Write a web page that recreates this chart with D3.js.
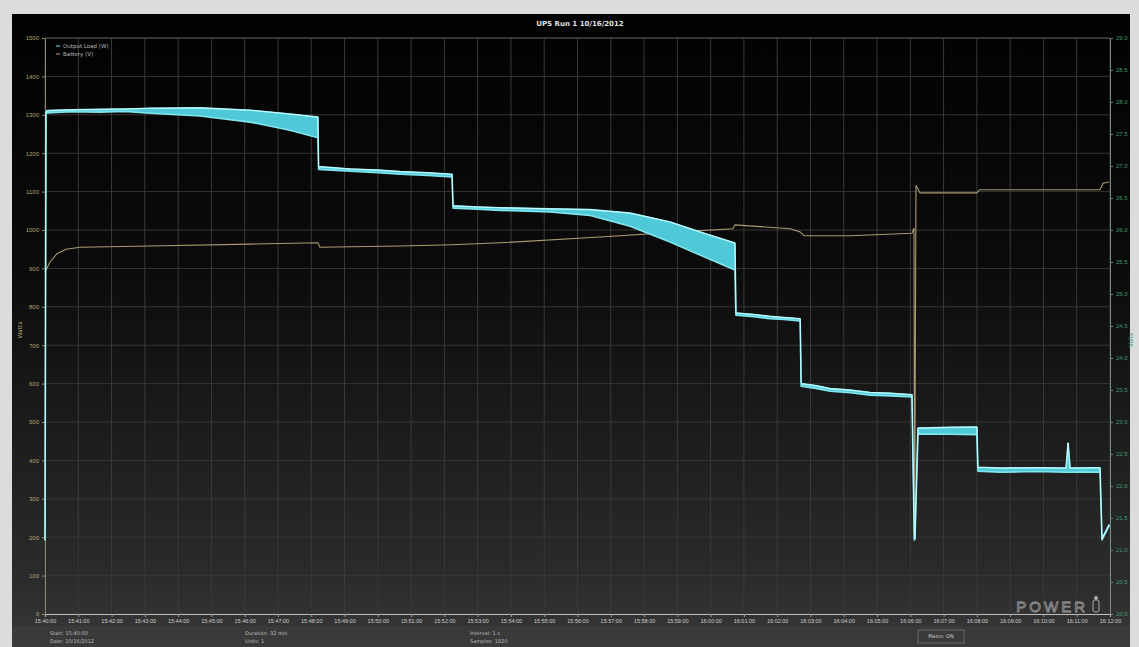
<!DOCTYPE html>
<html>
<head>
<meta charset="utf-8">
<script src="https://cdn.jsdelivr.net/npm/d3@7/dist/d3.min.js"></script>
<style>
  html, body { margin: 0; padding: 0; background: #dcdcdc; }
  svg { display: block; font-family: "DejaVu Sans", sans-serif; }
</style>
</head>
<body>
<svg id="chart" width="1139" height="647"></svg>
<script>
// ---- Run data -------------------------------------------------------------
const chartTitle = "UPS Run 1  10/16/2012";
const runStart = new Date(2012, 9, 16, 15, 40, 0);
const runMinutes = 32;

// Load on the UPS output (W): minutes from start, band low, band high
const loadMinutes = [0.00, 0.03, 0.06, 0.8, 1.65, 2.4, 3.16, 4.66, 6.16, 7.36, 8.20,
  8.22, 9.16, 10.0, 10.67, 11.5, 12.23,
  12.26, 13.0, 13.67, 15.17, 16.38, 17.58, 18.78, 19.68, 20.73,
  20.76, 21.3, 21.78, 22.2, 22.69,
  22.72, 23.2, 23.59, 24.2, 24.79, 25.4, 26.05,
  26.12, 26.14, 26.23, 27.2, 28.00,
  28.03, 28.70, 29.8, 30.68, 30.74, 30.80, 31.70,
  31.76, 31.97];
const loadLow = [193, 1303, 1305, 1308, 1307, 1309, 1304, 1297, 1281, 1260, 1240,
  1158, 1153, 1149, 1145, 1142, 1138,
  1057, 1054, 1051, 1047, 1038, 1010, 969, 935, 896,
  778, 774, 769, 767, 763,
  593, 587, 580, 576, 570, 568, 565,
  193, 195, 469, 468, 467,
  372, 369, 371, 369, 369, 369, 370,
  193, 229];
const loadHigh = [193, 1307, 1311, 1313, 1314, 1315, 1317, 1318, 1312, 1302, 1294,
  1165, 1159, 1156, 1152, 1149, 1145,
  1063, 1060, 1058, 1055, 1053, 1044, 1021, 995, 966,
  784, 780, 775, 772, 769,
  600, 594, 587, 583, 577, 575, 571,
  196, 198, 484, 486, 487,
  382, 380, 381, 380, 445, 380, 381,
  196, 232];

// Battery voltage (V): minutes from start, value
const battMinutes = [0, 0.15, 0.36, 0.63, 1.05, 3.16, 6.16, 8.20, 8.26, 10.67, 12.23,
  13.67, 16.68, 19.08, 20.67, 20.73, 22.39, 22.69, 22.81, 24.19, 26.05, 26.11,
  26.13, 26.17, 26.29, 28.00, 28.09, 31.70, 31.79, 31.97];
const battVolts = [25.34, 25.50, 25.63, 25.70, 25.73, 25.75, 25.78, 25.80, 25.73, 25.75, 25.77,
  25.80, 25.89, 25.97, 26.02, 26.08, 26.02, 25.97, 25.91, 25.91, 25.95, 26.03,
  21.16, 26.70, 26.58, 26.58, 26.63, 26.63, 26.73, 26.75];

// Axis settings
const loadTicks = d3.range(0, 1501, 100);
const voltTicks = d3.range(20, 29.01, 0.5);
const legendNames = ["Output Load (W)", "Battery (V)"];
const footerNotes = [
  ["Start: 15:40:00", "Date: 10/16/2012"],
  ["Duration: 32 min", "Units: 1"],
  ["Interval: 1 s", "Samples: 1920"]
];
const markerNote = "Mains: ON";

// ---- Layout ---------------------------------------------------------------
const W = 1139, H = 647;
const panel = {x: 12, y: 14, w: 1118, h: 633};
const plot = {l: 45, r: 1110, t: 38, b: 614};

const svg = d3.select("#chart");
const defs = svg.append("defs");
const grad = defs.append("linearGradient").attr("id", "bg").attr("x1", 0).attr("y1", 0).attr("x2", 0).attr("y2", 1);
grad.append("stop").attr("offset", "0%").attr("stop-color", "#020202");
grad.append("stop").attr("offset", "40%").attr("stop-color", "#0b0b0b");
grad.append("stop").attr("offset", "90%").attr("stop-color", "#2c2c2c");
grad.append("stop").attr("offset", "100%").attr("stop-color", "#383838");

svg.append("rect").attr("width", W).attr("height", H).attr("fill", "#dcdcdc");
svg.append("rect").attr("x", panel.x).attr("y", panel.y).attr("width", panel.w).attr("height", panel.h)
  .attr("fill", "url(#bg)");
svg.append("rect").attr("x", panel.x).attr("y", 626).attr("width", panel.w).attr("height", H - 626)
  .attr("fill", "#3a3a3a");

// Scales
const x = d3.scaleTime()
  .domain([runStart, d3.timeMinute.offset(runStart, runMinutes)])
  .range([plot.l, plot.r]);
const yLoad = d3.scaleLinear().domain([0, 1500]).range([plot.b, plot.t]);
const yVolt = d3.scaleLinear().domain([20, 29]).range([plot.b, plot.t]);
const tAt = m => new Date(runStart.getTime() + m * 60000);

// Grid
const grid = svg.append("g");
grid.selectAll("line.h").data(loadTicks).join("line")
  .attr("x1", plot.l).attr("x2", plot.r)
  .attr("y1", d => yLoad(d)).attr("y2", d => yLoad(d))
  .attr("stroke", "#363632").attr("stroke-width", 1);
const minuteTicks = x.ticks(d3.timeMinute.every(1));
grid.selectAll("line.v").data(minuteTicks).join("line")
  .attr("x1", d => x(d)).attr("x2", d => x(d))
  .attr("y1", plot.t).attr("y2", plot.b)
  .attr("stroke", "#3a3a37").attr("stroke-width", 1);

// Axes
const leftAxis = svg.append("g").attr("transform", `translate(${plot.l},0)`)
  .call(d3.axisLeft(yLoad).tickValues(loadTicks).tickSize(3).tickFormat(d3.format("d")));
leftAxis.select(".domain").attr("stroke", "#8a8a70");
leftAxis.selectAll(".tick line").attr("stroke", "#8a8a70");
leftAxis.selectAll("text").attr("fill", "#b3a46c").attr("font-size", 6);

const rightAxis = svg.append("g").attr("transform", `translate(${plot.r},0)`)
  .call(d3.axisRight(yVolt).tickValues(voltTicks).tickSize(3).tickFormat(d3.format(".1f")));
rightAxis.select(".domain").attr("stroke", "#7a8a80");
rightAxis.selectAll(".tick line").attr("stroke", "#5a8a70");
rightAxis.selectAll("text").attr("fill", "#3f9a70").attr("font-size", 6);

const bottomAxis = svg.append("g").attr("transform", `translate(0,${plot.b})`)
  .call(d3.axisBottom(x).ticks(d3.timeMinute.every(1)).tickSize(3).tickFormat(d3.timeFormat("%H:%M:%S")));
bottomAxis.select(".domain").attr("stroke", "#bdbdbd").attr("stroke-width", 1.2);
bottomAxis.selectAll(".tick line").attr("stroke", "#999");
bottomAxis.selectAll("text").attr("fill", "#cfcfcf").attr("font-size", 5.5).attr("dy", "0.6em");

// Top frame line
svg.append("line").attr("x1", plot.l).attr("x2", plot.r).attr("y1", plot.t).attr("y2", plot.t)
  .attr("stroke", "#4a4a44");

// Axis titles
svg.append("text").attr("transform", "translate(22,330) rotate(-90)")
  .attr("text-anchor", "middle").attr("fill", "#b3a46c").attr("font-size", 6).text("Watts");
svg.append("text").attr("transform", "translate(1133,340) rotate(-90)")
  .attr("text-anchor", "middle").attr("fill", "#3f9a70").attr("font-size", 6).text("Volts");

// Title
svg.append("text").attr("x", 580).attr("y", 26).attr("text-anchor", "middle")
  .attr("fill", "#e0e0e0").attr("font-size", 7).attr("font-weight", "bold").text(chartTitle);

// ---- Series ---------------------------------------------------------------
const loadData = loadMinutes.map((m, i) => ({t: tAt(m), lo: loadLow[i], hi: loadHigh[i]}));
const battData = battMinutes.map((m, i) => ({t: tAt(m), v: battVolts[i]}));

const clip = defs.append("clipPath").attr("id", "plotclip");
clip.append("rect").attr("x", plot.l - 2).attr("y", plot.t).attr("width", plot.r - plot.l + 4).attr("height", plot.b - plot.t);
const series = svg.append("g").attr("clip-path", "url(#plotclip)");

// Battery voltage trace
series.append("path").datum(battData)
  .attr("fill", "none").attr("stroke", "#a89b72").attr("stroke-width", 1.1)
  .attr("d", d3.line().x(d => x(d.t)).y(d => yVolt(d.v)));

// Load band (ripple envelope) with a soft glow
const glow = defs.append("filter").attr("id", "glow").attr("x", "-5%").attr("y", "-20%").attr("width", "110%").attr("height", "140%");
glow.append("feGaussianBlur").attr("stdDeviation", 0.7);

series.append("path").datum(loadData)
  .attr("fill", "#4fc8d8").attr("stroke", "#7fe6ee").attr("stroke-width", 1.6)
  .attr("stroke-linejoin", "round").attr("filter", "url(#glow)")
  .attr("d", d3.area().x(d => x(d.t)).y0(d => yLoad(d.lo)).y1(d => yLoad(d.hi)));
series.append("path").datum(loadData)
  .attr("fill", "none").attr("stroke", "#c8fbff").attr("stroke-width", 1)
  .attr("d", d3.line().x(d => x(d.t)).y(d => yLoad(d.hi)));

// ---- Legend ---------------------------------------------------------------
const legColors = ["#7fe6ee", "#a89b72"];
const leg = svg.append("g").attr("transform", "translate(56,46)");
legendNames.forEach((name, i) => {
  leg.append("line").attr("x1", 0).attr("x2", 4).attr("y1", i * 8).attr("y2", i * 8)
    .attr("stroke", legColors[i]).attr("stroke-width", 1);
  leg.append("text").attr("x", 7).attr("y", i * 8 + 2).attr("fill", "#b8b8b8")
    .attr("font-size", 5.5).text(name);
});

// ---- Footer ---------------------------------------------------------------
const footX = [50, 245, 470];
footerNotes.forEach((lines, i) => {
  lines.forEach((t, j) => {
    svg.append("text").attr("x", footX[i]).attr("y", 635 + j * 8).attr("fill", "#bdbdbd")
      .attr("font-size", 5).text(t);
  });
});
svg.append("rect").attr("x", 918).attr("y", 630).attr("width", 46).attr("height", 13)
  .attr("fill", "none").attr("stroke", "#777").attr("stroke-width", 0.8);
svg.append("text").attr("x", 941).attr("y", 638).attr("text-anchor", "middle").attr("fill", "#cfcfcf")
  .attr("font-size", 5).text(markerNote);

// Logo
svg.append("text").attr("x", 1088).attr("y", 612).attr("text-anchor", "end")
  .attr("fill", "none").attr("stroke", "#9a9a9a").attr("stroke-width", 0.8)
  .attr("font-size", 15).attr("letter-spacing", 3).attr("font-family", "Liberation Sans, sans-serif")
  .text("POWER");
svg.append("rect").attr("x", 1093).attr("y", 600).attr("width", 6).attr("height", 12).attr("rx", 2)
  .attr("fill", "none").attr("stroke", "#aaa").attr("stroke-width", 1);
svg.append("circle").attr("cx", 1096).attr("cy", 598).attr("r", 2).attr("fill", "#aaa");
</script>
</body>
</html>
